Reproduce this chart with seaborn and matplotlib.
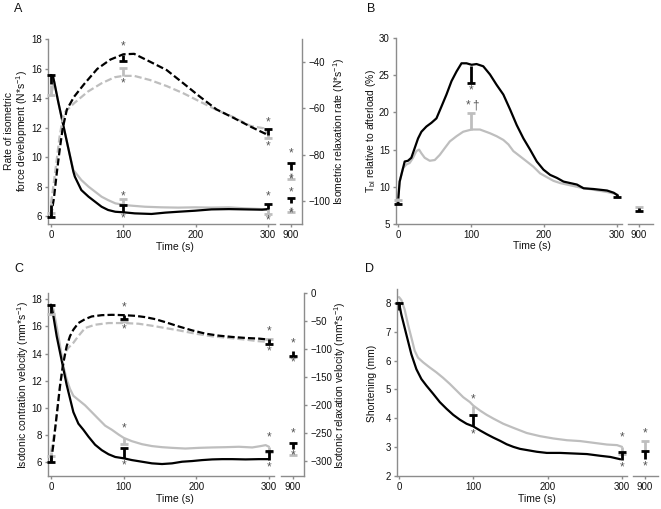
import numpy as np
import pandas as pd
import matplotlib
matplotlib.use("Agg")
import matplotlib.pyplot as plt
import seaborn as sns

sns.set_style("ticks")
plt.rcParams["font.family"] = ["Liberation Sans", "DejaVu Sans"]
plt.rcParams["mathtext.default"] = "regular"

# ---- Panel A: isometric force development (solid, left) / relaxation rate (dashed, right)
a_dev_blk_t = [0, 3, 10, 17, 24, 31, 33, 42, 52, 61, 70, 79, 89, 101, 116, 139, 158, 176, 199, 222, 246, 269, 292, 300]
a_dev_blk = [15.56, 15.45, 13.75, 12.17, 10.59, 9.0, 8.67, 7.76, 7.31, 6.97, 6.63, 6.41, 6.29, 6.25, 6.18, 6.14, 6.23, 6.29, 6.36, 6.45, 6.47, 6.45, 6.43, 6.47]
a_dev_gry_t = [0, 4.6, 10, 17, 24, 31, 33, 42, 52, 61, 70, 79, 89, 101, 112, 130, 153, 176, 199, 222, 246, 269, 292, 300]
a_dev_gry = [14.2, 15.1, 13.75, 12.17, 10.59, 9.1, 9.0, 8.44, 7.99, 7.65, 7.31, 7.08, 6.86, 6.75, 6.7, 6.63, 6.59, 6.57, 6.59, 6.57, 6.59, 6.52, 6.47, 6.41]
a_rel_blk_t = [0, 4, 8, 12, 16, 22, 32, 46, 64, 82, 100, 115, 137, 160, 183, 206, 229, 253, 276, 300]
a_rel_blk = [-106.5, -99, -88, -78, -69, -60.5, -55, -49.5, -43, -39, -36.7, -36.5, -39.9, -43.5, -49.2, -55, -60.5, -64.2, -67.9, -71.5]
a_rel_gry_t = [0, 4, 8, 12, 16, 20, 32, 51, 70, 88, 100, 115, 137, 160, 183, 206, 229, 253, 276, 294, 300]
a_rel_gry = [-101, -92, -82, -72, -65, -61.4, -57.8, -52.8, -49.2, -46.6, -46, -46, -47.8, -50.4, -53.5, -57.1, -60.7, -63.9, -67.6, -68.6, -71]
# error bars: time, mean, signed error (cap at mean + err), group
a_dev_bars_t = [0, 0, 100, 100, 300, 300, 900, 900]
a_dev_bars_y = [14.9, 14.95, 6.8, 6.3, 6.45, 6.45, 6.6, 6.85]
a_dev_bars_e = [-0.7, 0.6, 0.35, 0.45, -0.3, 0.35, -0.35, 0.35]
a_dev_bars_g = ["grey", "black", "grey", "black", "grey", "black", "grey", "black"]
a_rel_bars_t = [0, 0, 100, 100, 300, 300, 900, 900]
a_rel_bars_y = [-101, -101.7, -46, -36.8, -70.5, -71.5, -88, -86.5]
a_rel_bars_e = [-4, -5.1, 3.4, -2.8, -2.5, 2.5, -2.5, 3]
a_rel_bars_g = ["grey", "black", "grey", "black", "grey", "black", "grey", "black"]
a_dev_star_t = [100, 100, 300, 300, 900, 900]
a_dev_star_y = [7.3, 5.86, 7.31, 5.73, 7.63, 6.2]
a_rel_star_t = [100, 100, 300, 300, 900, 900]
a_rel_star_y = [-33.1, -49.2, -66.2, -76.3, -79.5, -90.5]

# ---- Panel B: Tbl relative to afterload
b_blk_t = [0, 2.3, 4.6, 9.2, 13.7, 18.3, 22.9, 27.5, 32.1, 38.9, 45.8, 52.7, 59.6, 66.4, 73.3, 80.2, 87, 93.9, 100.8, 107.6, 116.8, 126, 135.1, 144.3, 153.5, 162.6, 171.8, 180.9, 190.1, 199.3, 208.4, 217.6, 226.7, 235.9, 245.1, 254.2, 268, 277.1, 286.3, 295.5, 300]
b_blk = [7.8, 10.7, 11.6, 13.4, 13.5, 13.9, 15.2, 16.5, 17.4, 18.1, 18.6, 19.2, 20.8, 22.4, 24.2, 25.5, 26.6, 26.6, 26.4, 26.5, 26.2, 25.1, 23.7, 22.4, 20.4, 18.3, 16.5, 15.0, 13.4, 12.3, 11.6, 11.2, 10.7, 10.5, 10.3, 9.8, 9.7, 9.6, 9.5, 9.2, 8.9]
b_gry_t = [0, 2.3, 6.9, 11.5, 16, 20.6, 25.2, 28.9, 32.1, 36.6, 43.5, 50.4, 57.3, 64.1, 71, 80.2, 89.3, 100.8, 112.2, 126, 135.1, 144.3, 151.2, 158, 167.2, 176.4, 185.5, 194.7, 203.8, 213, 222.2, 235.9, 249.7, 268, 286.3, 300]
b_gry = [8.5, 10.7, 12.5, 13.0, 13.2, 13.9, 14.8, 15.0, 14.5, 13.9, 13.5, 13.6, 14.3, 15.2, 16.1, 16.8, 17.4, 17.7, 17.7, 17.2, 16.8, 16.3, 15.7, 14.8, 14.1, 13.4, 12.7, 11.8, 11.3, 10.8, 10.5, 10.2, 9.9, 9.6, 9.3, 9.0]
b_bars_t = [0, 0, 100, 100, 300, 900, 900]
b_bars_y = [8.5, 8.0, 17.6, 26.3, 9.0, 7.0, 7.1]
b_bars_e = [-0.3, -0.35, 2.3, -2.4, -0.4, 0.3, -0.35]
b_bars_g = ["grey", "black", "grey", "black", "black", "grey", "black"]
b_star_t = [100, 96]
b_star_y = [23.0, 20.9]
b_dagger = (106, 20.9)

# ---- Panel C: isotonic contraction velocity (solid, left) / relaxation velocity (dashed, right)
c_con_blk_t = [0, 3.2, 7.8, 12.4, 17, 21.6, 26.2, 30.8, 37.7, 44.6, 51.5, 60.7, 69.9, 79.2, 88.4, 100.3, 111.4, 125.2, 139, 152.8, 166.6, 180.4, 194.2, 208, 221.8, 235.6, 249.4, 267.8, 286.2, 300]
c_con_blk = [17.6, 16.8, 15.3, 14.1, 12.9, 11.7, 10.7, 9.7, 8.85, 8.4, 7.9, 7.3, 6.9, 6.6, 6.4, 6.3, 6.17, 6.05, 5.93, 5.88, 5.93, 6.05, 6.1, 6.17, 6.22, 6.24, 6.24, 6.22, 6.24, 6.24]
c_con_gry_t = [0, 3.2, 7.8, 12.4, 17, 21.6, 26.2, 30.8, 37.7, 46.9, 56.1, 65.3, 74.6, 83.8, 93, 100.3, 111.4, 125.2, 139, 152.8, 166.6, 185, 203.4, 221.8, 240.2, 258.6, 277, 288.5, 295.4, 300]
c_con_gry = [17.6, 17.3, 16.0, 14.6, 13.1, 12.1, 11.4, 10.9, 10.6, 10.2, 9.7, 9.2, 8.7, 8.4, 8.05, 7.8, 7.56, 7.34, 7.2, 7.12, 7.07, 7.02, 7.07, 7.1, 7.12, 7.15, 7.1, 7.2, 7.27, 7.15]
c_rel_blk_t = [0, 3.2, 7.8, 12.4, 17, 21.6, 26.2, 30.8, 37.7, 46.9, 56.1, 70, 83.8, 100.3, 116, 129.6, 143.4, 157.2, 175.6, 194, 212.4, 230.8, 249.2, 267.6, 286, 300]
c_rel_blk = [-301.8, -272, -219, -166, -125, -95, -77, -65.6, -53.7, -46.7, -41.9, -39.6, -39, -39.6, -40.8, -43.1, -46.7, -52, -59.7, -66.7, -72.6, -76.2, -78.5, -80.3, -81.5, -83.3]
c_rel_gry_t = [0, 5.5, 10.1, 14.7, 19.3, 23.9, 30.8, 37.7, 46.9, 60.7, 79.2, 100.3, 120.5, 139, 157.2, 175.6, 198.6, 221.6, 244.6, 267.6, 286, 300]
c_rel_gry = [-284, -243, -195, -142, -107, -98, -89, -77, -62.6, -56.7, -53.7, -53.7, -54.9, -58.5, -62.6, -66.7, -72.6, -77.4, -80.3, -83.3, -86.2, -87.4]
c_con_bars_t = [0, 0, 100, 100, 300, 300, 900, 900]
c_con_bars_y = [17.3, 17.0, 7.8, 6.3, 7.15, 6.2, 6.8, 7.0]
c_con_bars_e = [-0.4, 0.6, -0.45, 0.75, -0.4, 0.65, -0.25, 0.45]
c_con_bars_g = ["grey", "black", "grey", "black", "grey", "black", "grey", "black"]
c_rel_bars_t = [0, 0, 100, 100, 300, 300, 900, 900]
c_rel_bars_y = [-284, -290, -53.7, -39.6, -87, -83, -110, -104]
c_rel_bars_e = [-8, -12, 4, -7, 4, -8, -5, -8]
c_rel_bars_g = ["grey", "black", "grey", "black", "grey", "black", "grey", "black"]
c_con_star_t = [100, 100, 300, 300, 900, 900]
c_con_star_y = [8.49, 5.8, 7.8, 5.63, 8.15, 6.5]
c_rel_star_t = [100, 100, 300, 300, 900, 900]
c_rel_star_y = [-25.4, -65.6, -68.5, -104, -90.4, -124.6]

# ---- Panel D: shortening
d_blk_t = [0, 3.1, 9.9, 16.6, 23.4, 30.1, 36.9, 45.9, 54.9, 63.9, 72.9, 81.9, 90.9, 99.9, 108.9, 117.9, 126.9, 135.9, 144.8, 153.8, 162.8, 171.8, 185.3, 198.8, 216.8, 234.8, 252.8, 270.8, 284.3, 297.8]
d_blk = [8.0, 7.6, 6.9, 6.22, 5.7, 5.36, 5.13, 4.85, 4.56, 4.33, 4.12, 3.95, 3.81, 3.72, 3.58, 3.45, 3.33, 3.22, 3.1, 3.01, 2.94, 2.9, 2.84, 2.8, 2.8, 2.78, 2.76, 2.7, 2.66, 2.58]
d_gry_t = [0, 3.1, 7.6, 12.1, 16.6, 21.1, 25.6, 32.4, 41.4, 50.4, 59.4, 68.4, 77.4, 86.4, 95.4, 99.9, 108.9, 117.9, 126.9, 140.3, 153.8, 171.8, 189.8, 207.8, 225.8, 243.8, 261.8, 279.8, 293.3, 300]
d_gry = [8.2, 8.1, 7.77, 7.25, 6.8, 6.34, 6.1, 5.94, 5.76, 5.59, 5.4, 5.19, 4.96, 4.73, 4.56, 4.44, 4.27, 4.12, 3.99, 3.81, 3.67, 3.49, 3.38, 3.3, 3.24, 3.21, 3.15, 3.09, 3.07, 3.01]
d_bars_t = [0, 100, 100, 300, 300, 900, 900]
d_bars_y = [7.75, 4.42, 3.72, 3.0, 2.55, 2.9, 2.6]
d_bars_e = [0.25, -0.32, 0.38, -0.25, 0.28, 0.3, 0.25]
d_bars_g = ["black", "grey", "black", "grey", "black", "grey", "black"]
d_star_t = [100, 100, 300, 300, 900, 900]
d_star_y = [4.67, 3.45, 3.33, 2.29, 3.46, 2.32]

W, H = 661, 509
SPINE = "#8c8c8c"
COLORS = {"black": "#000000", "grey": "#bebebe"}
SOLID = "-"
DASHED = (0, (3.2, 1.4))


def box(x0, x1, y0, y1):
    return [x0 / W, 1 - y1 / H, (x1 - x0) / W, (y1 - y0) / H]


def style_ax(ax, keep):
    for name, sp in ax.spines.items():
        sp.set_visible(name in keep)
        sp.set_color(SPINE)
        sp.set_linewidth(1)
    ax.tick_params(direction="out", length=2.5, width=1, color=SPINE,
                   labelsize=7, labelcolor="#111111", pad=2)
    ax.tick_params(axis="x", pad=1.5)
    ax.patch.set_visible(False)


def broken(fig, xm, xs, yy, xl_m, xl_s, ylim, yticks):
    ax_m = fig.add_axes(box(xm[0], xm[1], yy[0], yy[1]))
    ax_s = fig.add_axes(box(xs[0], xs[1], yy[0], yy[1]))
    style_ax(ax_m, ["left", "bottom"])
    style_ax(ax_s, ["bottom"])
    ax_m.set_xlim(*xl_m)
    ax_s.set_xlim(*xl_s)
    for ax in (ax_m, ax_s):
        ax.set_ylim(*ylim)
    ax_m.set_xticks([0, 100, 200, 300])
    ax_s.set_xticks([900])
    ax_m.set_yticks(yticks)
    ax_s.set_yticks([])
    return ax_m, ax_s


def add_right(ax_m, ax_s, ylim, yticks):
    r_m = ax_m.twinx()
    r_s = ax_s.twinx()
    style_ax(r_m, [])
    style_ax(r_s, ["right"])
    for r in (r_m, r_s):
        r.set_ylim(*ylim)
    r_m.set_yticks([])
    r_s.set_yticks(yticks)
    return r_m, r_s


def lines(ax, t_b, v_b, t_g, v_g, ls):
    df = pd.concat([
        pd.DataFrame({"t": t_g, "v": v_g, "g": "grey"}),
        pd.DataFrame({"t": t_b, "v": v_b, "g": "black"}),
    ])
    sns.lineplot(data=df, x="t", y="v", hue="g", palette=COLORS, ax=ax,
                 linewidth=1.6, linestyle=ls, errorbar=None, legend=False)
    ax.set_xlabel("")
    ax.set_ylabel("")


def bars(ax_m, ax_s, ts, ys, es, gs):
    for t, y, e, g in zip(ts, ys, es, gs):
        ax = ax_s if t > 500 else ax_m
        c = COLORS[g]
        ax.vlines(t, y, y + e, color=c, lw=2, zorder=5)
        ax.plot([t], [y + e], marker="_", ms=6, mew=2, color=c, zorder=5, clip_on=False)


def stars(ax_m, ax_s, ts, ys):
    for t, y in zip(ts, ys):
        ax = ax_s if t > 500 else ax_m
        ax.text(t, y, "*", color="#555555", fontsize=8.5, ha="center",
                va="center", zorder=6)


fig = plt.figure(figsize=(W / 100, H / 100), dpi=100)

# Panel A
aL, aS = broken(fig, (48, 275), (280, 302), (39, 224), (-4.1, 309.8), (884.8, 915.2),
                (5.46, 18.0), [6, 8, 10, 12, 14, 16, 18])
aRm, aRs = add_right(aL, aS, (-109.9, -30.1), [-100, -80, -60, -40])
lines(aL, a_dev_blk_t, a_dev_blk, a_dev_gry_t, a_dev_gry, SOLID)
lines(aRm, a_rel_blk_t, a_rel_blk, a_rel_gry_t, a_rel_gry, DASHED)
bars(aL, aS, a_dev_bars_t, a_dev_bars_y, a_dev_bars_e, a_dev_bars_g)
bars(aRm, aRs, a_rel_bars_t, a_rel_bars_y, a_rel_bars_e, a_rel_bars_g)
stars(aL, aS, a_dev_star_t, a_dev_star_y)
stars(aRm, aRs, a_rel_star_t, a_rel_star_y)

# Panel B
bM, bS = broken(fig, (396, 622), (628, 653), (38, 224), (-2.7, 306.8), (884.9, 919.2),
                (5, 30), [5, 10, 15, 20, 25, 30])
lines(bM, b_blk_t, b_blk, b_gry_t, b_gry, SOLID)
bars(bM, bS, b_bars_t, b_bars_y, b_bars_e, b_bars_g)
stars(bM, bS, b_star_t, b_star_y)
bM.text(b_dagger[0], b_dagger[1], "\u2020", color="#555555", fontsize=8.5,
        ha="center", va="center", zorder=6)

# Panel C
cL, cS = broken(fig, (48, 274), (281, 304), (293, 476), (-4.1, 306.9), (883.5, 915.1),
                (5.0, 18.46), [6, 8, 10, 12, 14, 16, 18])
cRm, cRs = add_right(cL, cS, (-327, 0), [-300, -250, -200, -150, -100, -50, 0])
lines(cL, c_con_blk_t, c_con_blk, c_con_gry_t, c_con_gry, SOLID)
lines(cRm, c_rel_blk_t, c_rel_blk, c_rel_gry_t, c_rel_gry, DASHED)
bars(cL, cS, c_con_bars_t, c_con_bars_y, c_con_bars_e, c_con_bars_g)
bars(cRm, cRs, c_rel_bars_t, c_rel_bars_y, c_rel_bars_e, c_rel_bars_g)
stars(cL, cS, c_con_star_t, c_con_star_y)
stars(cRm, cRs, c_rel_star_t, c_rel_star_y)

# Panel D
dM, dS = broken(fig, (397, 627), (633, 658), (289, 476), (-2.7, 306.7), (883.9, 917.5),
                (2, 8.48), [2, 3, 4, 5, 6, 7, 8])
lines(dM, d_blk_t, d_blk, d_gry_t, d_gry, SOLID)
bars(dM, dS, d_bars_t, d_bars_y, d_bars_e, d_bars_g)
stars(dM, dS, d_star_t, d_star_y)


# Text
def ftext(x, y, s, size=7.5, rot=0, **kw):
    fig.text(x / W, 1 - y / H, s, fontsize=size, rotation=rot, ha="center",
             va="center", color="#111111", **kw)


unit_N = r"(N*s$^{-1}$)"
unit_mm = r"(mm*s$^{-1}$)"
for lab, x, y in [("A", 18, 9), ("B", 371, 9), ("C", 19, 269), ("D", 370, 269)]:
    ftext(x, y, lab, size=9)
for x, y in [(175, 247), (532, 246), (175, 499), (537, 499)]:
    ftext(x, y, "Time (s)", size=7.5)
ftext(17, 131, "Rate of isometric\nforce development " + unit_N, rot=90, linespacing=1.05)
ftext(339, 131, "Isometric relaxation rate " + unit_N, rot=90)
ftext(371, 131, r"T$_{bl}$ relative to afterload (%)", rot=90)
ftext(23, 385, "Isotonic contration velocity " + unit_mm, rot=90)
ftext(340, 385, "Isotonic relaxation velocity " + unit_mm, rot=90)
ftext(372, 383, "Shortening (mm)", rot=90)

fig.savefig("out.png", dpi=100)
